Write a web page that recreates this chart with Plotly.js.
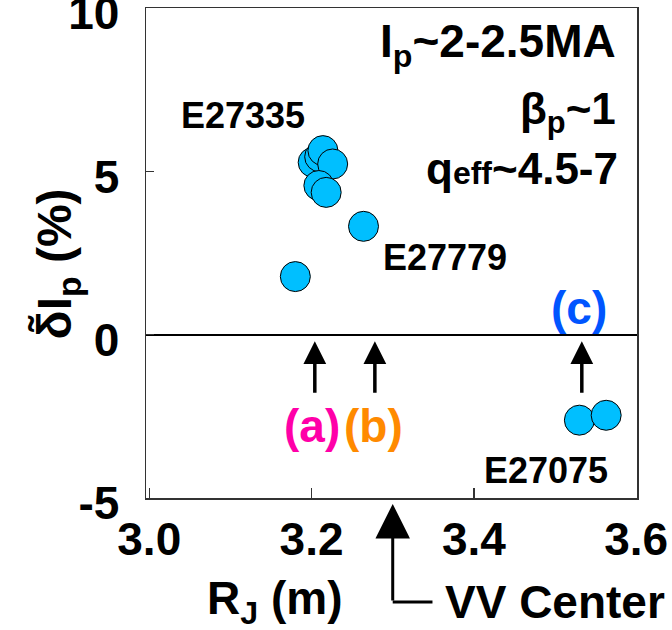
<!DOCTYPE html>
<html>
<head>
<meta charset="utf-8">
<script src="https://cdn.plot.ly/plotly-3.0.1.min.js"></script>
<style>html,body{margin:0;padding:0;background:#fff;}#chart{width:672px;height:630px;}</style>
</head>
<body>
<div id="chart"></div>
<script>
// Data
const rJ   = [3.180, 3.264, 3.202, 3.210, 3.214, 3.226, 3.209, 3.218, 3.530, 3.563];
const dIp  = [1.78,  3.32,  5.28,  5.45,  5.64,  5.23,  4.57,  4.36,  -2.62, -2.47];
const xTicks = [3.0, 3.2, 3.4, 3.6];
const xTickText = ['3.0', '3.2', '3.4', '3.6'];
const yTicks = [-5, 0, 5, 10];
const yTickText = ['-5', '0', '5', '10'];
const shotNames = ['E27335', 'E27779', 'E27075'];
const shotX = [3.115, 3.364, 3.489];
const shotY = [6.71, 2.36, -4.15];
const caseNames = ['(a)', '(b)', '(c)'];
const caseArrowX = [3.204, 3.278, 3.533];
const caseLabelX = [3.200, 3.276, 3.529];
const caseLabelY = [-2.80, -2.80, 0.81];
const caseColors = ['#ff00a8', '#ff8a00', '#0055ff'];
const vvCenter = 3.3;

const FONT = 'Liberation Sans, Arial, sans-serif';
const f = (size, color) => ({family: FONT, size: size, color: color || '#000', weight: 'bold'});

const annotations = [];
shotNames.forEach((t, i) => annotations.push({
  x: shotX[i], y: shotY[i], xref: 'x', yref: 'y', text: t, showarrow: false,
  font: f(36), xanchor: 'center', yanchor: 'middle'
}));
caseNames.forEach((t, i) => {
  annotations.push({
    x: caseLabelX[i], y: caseLabelY[i], xref: 'x', yref: 'y', text: t, showarrow: false,
    font: f(46, caseColors[i]), xanchor: 'center', yanchor: 'middle'
  });
  annotations.push({
    x: caseArrowX[i], y: -0.2, xref: 'x', yref: 'y', text: '', showarrow: true,
    ax: 0, ay: 53, arrowhead: 2, arrowwidth: 3.5, arrowsize: 1.3, arrowcolor: '#000'
  });
});
// condition text
annotations.push({x: 3.577, y: 8.89, xref: 'x', yref: 'y', text: 'I<sub>p</sub>~2-2.5MA', showarrow: false,
  font: f(46), xanchor: 'right', yanchor: 'middle'});
annotations.push({x: 3.577, y: 6.82, xref: 'x', yref: 'y', text: 'β<sub>p</sub>~1', showarrow: false,
  font: f(44), xanchor: 'right', yanchor: 'middle'});
annotations.push({x: 3.580, y: 5.1, xref: 'x', yref: 'y', text: 'q<span style="font-size:32px">eff</span>~4.5-7', showarrow: false,
  font: f(44), xanchor: 'right', yanchor: 'middle'});
// VV center arrow
annotations.push({x: vvCenter, y: -0.012, xref: 'x', yref: 'paper', text: '', showarrow: true,
  ax: 0, ay: 98, arrowhead: 2, arrowwidth: 3, arrowsize: 2.3, arrowcolor: '#000'});
annotations.push({x: 3.362, y: -0.212, xref: 'x', yref: 'paper', text: 'VV Center', showarrow: false,
  font: f(46), xanchor: 'left', yanchor: 'middle'});
// axis titles
annotations.push({x: 0.261, y: -0.212, xref: 'paper', yref: 'paper', text: 'R<sub>J</sub> (m)', showarrow: false,
  font: f(46), xanchor: 'center', yanchor: 'middle'});
annotations.push({x: -0.18, y: 0.478, xref: 'paper', yref: 'paper', text: 'δ̃I<sub>p</sub> (%)', showarrow: false,
  textangle: -90, font: f(48), xanchor: 'center', yanchor: 'middle'});

const trace = {
  x: rJ, y: dIp, type: 'scatter', mode: 'markers',
  marker: {size: 30, color: '#00bfff', line: {color: '#000', width: 1}},
  hoverinfo: 'skip', showlegend: false, cliponaxis: false
};

const layout = {
  width: 672, height: 630,
  margin: {l: 146, r: 35, t: 8, b: 132},
  paper_bgcolor: '#fff', plot_bgcolor: '#fff',
  showlegend: false,
  xaxis: {
    range: [2.996, 3.601], tickvals: xTicks, ticktext: xTickText,
    ticks: 'inside', ticklen: 10, tickwidth: 1.5, tickcolor: '#333',
    showline: true, mirror: true, linecolor: '#333', linewidth: 1.5,
    showgrid: false, zeroline: false, tickfont: f(46), ticklabelstandoff: 0
  },
  yaxis: {
    range: [-5.005, 10.01], tickvals: yTicks, ticktext: yTickText,
    ticks: 'inside', ticklen: 8, tickwidth: 1.5, tickcolor: '#333',
    showline: true, mirror: true, linecolor: '#333', linewidth: 1.5,
    showgrid: false, zeroline: true, zerolinecolor: '#000', zerolinewidth: 2,
    tickfont: f(46), ticklabelstandoff: 16, ticklabelshift: 5, ticklabeloverflow: 'allow'
  },
  shapes: [{type: 'line', xref: 'x', yref: 'paper', x0: vvCenter, x1: 3.349, y0: -0.212, y1: -0.212,
    line: {color: '#000', width: 3}}],
  annotations: annotations
};

Plotly.newPlot('chart', [trace], layout, {displayModeBar: false, staticPlot: true});
</script>
</body>
</html>
